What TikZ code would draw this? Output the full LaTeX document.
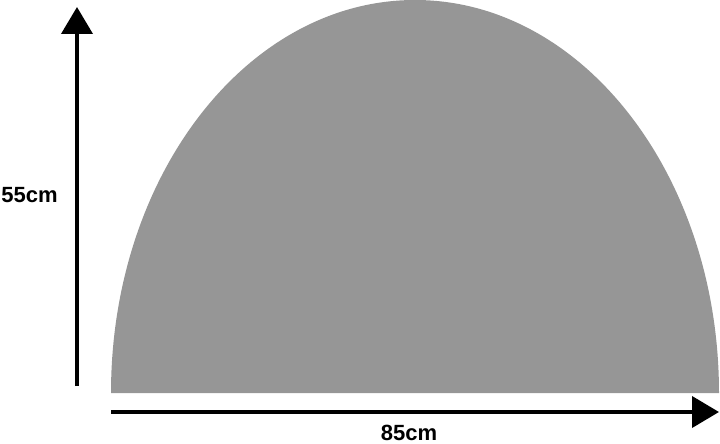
\documentclass[tikz,border=0pt]{standalone}
\usepackage{fontspec}
\setmainfont{Liberation Sans}
\usetikzlibrary{arrows.meta}
\definecolor{shapegray}{RGB}{150,150,150}
\tikzset{
  dimarrow/.style={line width=4pt, -{Triangle[length=27pt,width=31pt]}},
  dimlabel/.style={inner sep=0pt, font=\fontsize{22}{24}\selectfont\bfseries}
}
\begin{document}
\begin{tikzpicture}[x=1pt,y=-1pt]
\useasboundingbox (0,0) rectangle (720,444);
% half ellipse
\fill[shapegray] (111,393) arc[start angle=180, end angle=0, x radius=304, y radius=-393] -- cycle;
% coordinates
\coordinate (vstart) at (77,386);
\coordinate (vend) at (77,7);
\coordinate (hstart) at (111,412);
\coordinate (hend) at (719,412);
\draw[dimarrow] (vstart) -- (vend);
\draw[dimarrow] (hstart) -- (hend);
\node[dimlabel] (h) at (29.5,195) {55cm};
\node[dimlabel] (w) at (409,433) {85cm};
\end{tikzpicture}
\end{document}
